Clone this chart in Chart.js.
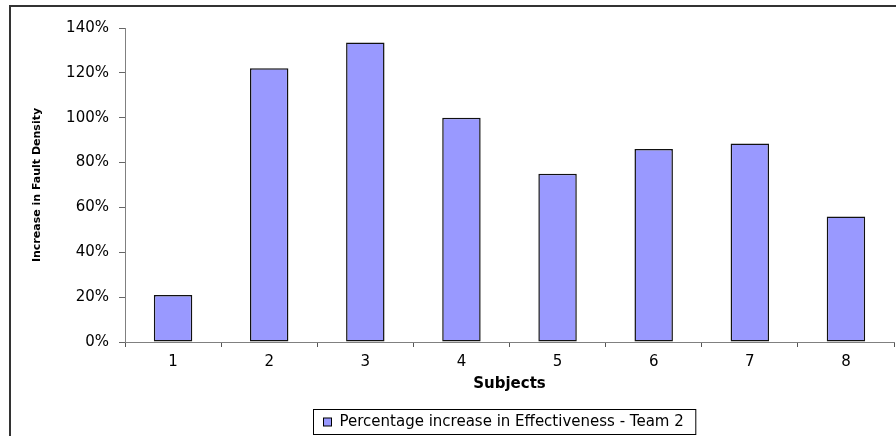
<!DOCTYPE html>
<html>
<head>
<meta charset="utf-8">
<script src="https://cdn.jsdelivr.net/npm/chart.js@4/dist/chart.umd.min.js"></script>
<style>
  html, body { margin: 0; padding: 0; background: #fff; }
  #wrap { width: 896px; height: 436px; position: relative; }
</style>
</head>
<body>
<div id="wrap"><canvas id="c"></canvas></div>
<script>
const categories = ['1', '2', '3', '4', '5', '6', '7', '8'];
const seriesLabel = 'Percentage increase in Effectiveness - Team 2';
const seriesValues = [21, 122, 133.5, 100, 75, 86, 88.5, 56];
const yTickValues = [0, 20, 40, 60, 80, 100, 120, 140];
const xTitle = 'Subjects';
const yTitle = 'Increase in Fault Density';

const FONT = '"DejaVu Sans", "Liberation Sans", Arial, sans-serif';
const BAR_FILL = '#9999FF';

const framePlugin = {
  id: 'frame',
  afterDraw(chart) {
    const ctx = chart.ctx;
    ctx.save();
    ctx.strokeStyle = '#333333';
    ctx.lineWidth = 2;
    ctx.strokeRect(10, 6, 900, 440);
    ctx.restore();
  }
};

const legendPlugin = {
  id: 'boxLegend',
  afterDraw(chart) {
    const ctx = chart.ctx;
    const ds = chart.data.datasets[0];
    ctx.save();
    ctx.font = '15px ' + FONT;
    const tw = ctx.measureText(ds.label).width;
    const boxW = 10 + 8 + 8 + tw + 12;
    const boxH = 25;
    const cx = 504;
    const left = Math.round(cx - boxW / 2) + 0.5;
    const top = 409.5;
    ctx.strokeStyle = '#000';
    ctx.lineWidth = 1;
    ctx.strokeRect(left, top, boxW, boxH);
    ctx.fillStyle = ds.backgroundColor;
    ctx.fillRect(left + 10, top + 8.5, 8, 8);
    ctx.strokeRect(left + 10, top + 8.5, 8, 8);
    ctx.fillStyle = '#000';
    ctx.textBaseline = 'middle';
    ctx.textAlign = 'left';
    ctx.fillText(ds.label, left + 26, top + boxH / 2 + 0.5);
    ctx.restore();
  }
};

new Chart(document.getElementById('c'), {
  type: 'bar',
  data: {
    labels: categories,
    datasets: [{
      label: seriesLabel,
      data: seriesValues,
      backgroundColor: BAR_FILL,
      borderColor: '#111111',
      borderWidth: 1.5,
      borderSkipped: false,
      categoryPercentage: 1.0,
      barPercentage: 0.4
    }]
  },
  options: {
    responsive: true,
    maintainAspectRatio: false,
    animation: false,
    layout: { padding: { top: 28, right: 2, left: 0, bottom: 0 } },
    plugins: {
      legend: { display: false },
      tooltip: { enabled: false }
    },
    scales: {
      x: {
        grid: {
          display: true,
          drawOnChartArea: false,
          drawTicks: true,
          tickLength: 5,
          color: '#555555',
          offset: true
        },
        border: { display: true, color: '#808080', width: 1 },
        ticks: {
          color: '#000',
          font: { family: FONT, size: 15 },
          padding: 6,
          maxRotation: 0
        },
        title: {
          display: true,
          text: xTitle,
          color: '#000',
          font: { family: FONT, size: 15, weight: 'bold' },
          padding: { top: 0, bottom: 43 }
        },
        afterFit(scale) { scale.height = 94; }
      },
      y: {
        min: 0,
        max: 140,
        afterBuildTicks(scale) { scale.ticks = yTickValues.map(v => ({ value: v })); },
        grid: {
          display: true,
          drawOnChartArea: false,
          drawTicks: true,
          tickLength: 6,
          color: '#666666'
        },
        border: { display: true, color: '#808080', width: 1 },
        ticks: {
          color: '#000',
          font: { family: FONT, size: 15 },
          padding: 10,
          callback: (v) => v + '%'
        },
        title: {
          display: true,
          text: yTitle,
          color: '#000',
          font: { family: FONT, size: 11, weight: 'bold' },
          padding: { top: 31, bottom: 0 }
        },
        afterFit(scale) { scale.width = 125; }
      }
    }
  },
  plugins: [framePlugin, legendPlugin]
});
</script>
</body>
</html>
